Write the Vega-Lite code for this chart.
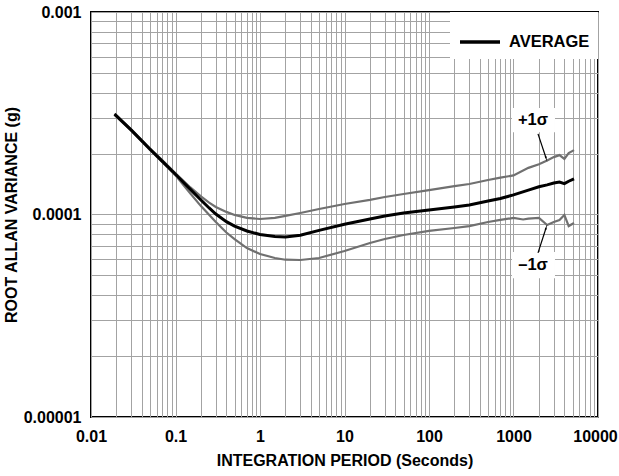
{
  "$schema": "https://vega.github.io/schema/vega-lite/v6.json",
  "autosize": "none",
  "width": 507,
  "height": 405,
  "padding": {"left": 91, "top": 12, "right": 21, "bottom": 59},
  "background": "white",
  "config": {
    "font": "Liberation Sans",
    "view": {"stroke": "black", "strokeWidth": 2},
    "axis": {
      "labelFont": "Liberation Sans",
      "labelFontSize": 16,
      "labelFontWeight": "bold",
      "labelColor": "black",
      "titleFont": "Liberation Sans",
      "titleFontSize": 16,
      "titleFontWeight": "bold",
      "titleColor": "black",
      "ticks": false,
      "domain": false,
      "gridColor": "#a3a3a3",
      "gridWidth": 1,
      "gridOpacity": 1
    }
  },
  "datasets": {
    "curves": [
      {"period": 0.019, "value": 0.000313, "series": "AVERAGE"},
      {"period": 0.03, "value": 0.000261, "series": "AVERAGE"},
      {"period": 0.05, "value": 0.00021, "series": "AVERAGE"},
      {"period": 0.07, "value": 0.000183, "series": "AVERAGE"},
      {"period": 0.1, "value": 0.000158, "series": "AVERAGE"},
      {"period": 0.15, "value": 0.000133, "series": "AVERAGE"},
      {"period": 0.2, "value": 0.000118, "series": "AVERAGE"},
      {"period": 0.25, "value": 0.0001077, "series": "AVERAGE"},
      {"period": 0.3, "value": 0.0001005, "series": "AVERAGE"},
      {"period": 0.4, "value": 0.0000922, "series": "AVERAGE"},
      {"period": 0.5, "value": 0.0000877, "series": "AVERAGE"},
      {"period": 0.7, "value": 0.0000829, "series": "AVERAGE"},
      {"period": 1, "value": 0.0000796, "series": "AVERAGE"},
      {"period": 1.5, "value": 0.0000778, "series": "AVERAGE"},
      {"period": 2, "value": 0.0000774, "series": "AVERAGE"},
      {"period": 3, "value": 0.000079, "series": "AVERAGE"},
      {"period": 5, "value": 0.0000835, "series": "AVERAGE"},
      {"period": 10, "value": 0.0000895, "series": "AVERAGE"},
      {"period": 20, "value": 0.000095, "series": "AVERAGE"},
      {"period": 30, "value": 0.0000984, "series": "AVERAGE"},
      {"period": 50, "value": 0.0001017, "series": "AVERAGE"},
      {"period": 100, "value": 0.0001052, "series": "AVERAGE"},
      {"period": 200, "value": 0.0001089, "series": "AVERAGE"},
      {"period": 300, "value": 0.0001115, "series": "AVERAGE"},
      {"period": 500, "value": 0.0001166, "series": "AVERAGE"},
      {"period": 700, "value": 0.00012, "series": "AVERAGE"},
      {"period": 1000, "value": 0.000125, "series": "AVERAGE"},
      {"period": 1500, "value": 0.000132, "series": "AVERAGE"},
      {"period": 2000, "value": 0.000137, "series": "AVERAGE"},
      {"period": 2500, "value": 0.00014, "series": "AVERAGE"},
      {"period": 3000, "value": 0.000143, "series": "AVERAGE"},
      {"period": 3500, "value": 0.0001445, "series": "AVERAGE"},
      {"period": 4000, "value": 0.000142, "series": "AVERAGE"},
      {"period": 4500, "value": 0.000146, "series": "AVERAGE"},
      {"period": 5200, "value": 0.00015, "series": "AVERAGE"},
      {"period": 0.019, "value": 0.000315, "series": "+1σ"},
      {"period": 0.03, "value": 0.000263, "series": "+1σ"},
      {"period": 0.05, "value": 0.000212, "series": "+1σ"},
      {"period": 0.07, "value": 0.000185, "series": "+1σ"},
      {"period": 0.1, "value": 0.00016, "series": "+1σ"},
      {"period": 0.15, "value": 0.000136, "series": "+1σ"},
      {"period": 0.2, "value": 0.000123, "series": "+1σ"},
      {"period": 0.25, "value": 0.0001145, "series": "+1σ"},
      {"period": 0.3, "value": 0.000109, "series": "+1σ"},
      {"period": 0.4, "value": 0.000103, "series": "+1σ"},
      {"period": 0.5, "value": 0.0000995, "series": "+1σ"},
      {"period": 0.7, "value": 0.0000962, "series": "+1σ"},
      {"period": 1, "value": 0.000095, "series": "+1σ"},
      {"period": 1.5, "value": 0.0000962, "series": "+1σ"},
      {"period": 2, "value": 0.0000984, "series": "+1σ"},
      {"period": 3, "value": 0.0001017, "series": "+1σ"},
      {"period": 5, "value": 0.0001064, "series": "+1σ"},
      {"period": 10, "value": 0.0001127, "series": "+1σ"},
      {"period": 20, "value": 0.000118, "series": "+1σ"},
      {"period": 30, "value": 0.000122, "series": "+1σ"},
      {"period": 50, "value": 0.0001262, "series": "+1σ"},
      {"period": 100, "value": 0.000132, "series": "+1σ"},
      {"period": 200, "value": 0.000138, "series": "+1σ"},
      {"period": 300, "value": 0.0001415, "series": "+1σ"},
      {"period": 500, "value": 0.000148, "series": "+1σ"},
      {"period": 700, "value": 0.000152, "series": "+1σ"},
      {"period": 1000, "value": 0.000156, "series": "+1σ"},
      {"period": 1500, "value": 0.00017, "series": "+1σ"},
      {"period": 2000, "value": 0.000177, "series": "+1σ"},
      {"period": 2500, "value": 0.000185, "series": "+1σ"},
      {"period": 3000, "value": 0.000192, "series": "+1σ"},
      {"period": 3500, "value": 0.0001965, "series": "+1σ"},
      {"period": 4000, "value": 0.000188, "series": "+1σ"},
      {"period": 4500, "value": 0.000201, "series": "+1σ"},
      {"period": 5200, "value": 0.000208, "series": "+1σ"},
      {"period": 0.019, "value": 0.00031, "series": "–1σ"},
      {"period": 0.03, "value": 0.000259, "series": "–1σ"},
      {"period": 0.05, "value": 0.000208, "series": "–1σ"},
      {"period": 0.07, "value": 0.000181, "series": "–1σ"},
      {"period": 0.1, "value": 0.000156, "series": "–1σ"},
      {"period": 0.15, "value": 0.000127, "series": "–1σ"},
      {"period": 0.2, "value": 0.00011, "series": "–1σ"},
      {"period": 0.3, "value": 0.0000918, "series": "–1σ"},
      {"period": 0.4, "value": 0.0000815, "series": "–1σ"},
      {"period": 0.5, "value": 0.0000755, "series": "–1σ"},
      {"period": 0.7, "value": 0.0000683, "series": "–1σ"},
      {"period": 1, "value": 0.0000638, "series": "–1σ"},
      {"period": 1.5, "value": 0.000061, "series": "–1σ"},
      {"period": 2, "value": 0.0000598, "series": "–1σ"},
      {"period": 3, "value": 0.0000596, "series": "–1σ"},
      {"period": 5, "value": 0.000061, "series": "–1σ"},
      {"period": 10, "value": 0.000066, "series": "–1σ"},
      {"period": 20, "value": 0.0000723, "series": "–1σ"},
      {"period": 30, "value": 0.0000757, "series": "–1σ"},
      {"period": 50, "value": 0.0000792, "series": "–1σ"},
      {"period": 100, "value": 0.000083, "series": "–1σ"},
      {"period": 200, "value": 0.0000858, "series": "–1σ"},
      {"period": 300, "value": 0.0000877, "series": "–1σ"},
      {"period": 500, "value": 0.0000918, "series": "–1σ"},
      {"period": 700, "value": 0.000094, "series": "–1σ"},
      {"period": 1000, "value": 0.0000962, "series": "–1σ"},
      {"period": 1300, "value": 0.0000945, "series": "–1σ"},
      {"period": 1500, "value": 0.0000955, "series": "–1σ"},
      {"period": 2000, "value": 0.0000962, "series": "–1σ"},
      {"period": 2500, "value": 0.0000887, "series": "–1σ"},
      {"period": 3000, "value": 0.0000918, "series": "–1σ"},
      {"period": 3500, "value": 0.000094, "series": "–1σ"},
      {"period": 4000, "value": 0.0000995, "series": "–1σ"},
      {"period": 4500, "value": 0.0000877, "series": "–1σ"},
      {"period": 5200, "value": 0.0000908, "series": "–1σ"}
    ],
    "notes": [
      {"label": "+1σ", "tx": 1702, "ty": 0.000293, "bx1": 959, "bx2": 3097, "by1": 0.000336, "by2": 0.000255, "ax1": 1950, "ay1": 0.00025, "ax2": 2427, "ay2": 0.00019},
      {"label": "–1σ", "tx": 1702, "ty": 0.0000564, "bx1": 959, "bx2": 3097, "by1": 0.0000653, "by2": 0.0000485, "ax1": 1950, "ay1": 0.0000646, "ax2": 2427, "ay2": 0.0000858}
    ]
  },
  "layer": [
    {
      "data": {"name": "curves"},
      "transform": [{"filter": "datum.series != 'AVERAGE'"}],
      "mark": {"type": "line", "color": "#707070", "strokeWidth": 2.2},
      "encoding": {
        "x": {
          "field": "period", "type": "quantitative",
          "scale": {"type": "log", "domain": [0.01, 10000], "nice": false},
          "axis": {
            "title": "INTEGRATION PERIOD (Seconds)",
            "titlePadding": 8,
            "labelPadding": 11,
            "format": "~f",
            "labelFlush": false,
            "labelOverlap": false,
            "labelBound": false,
            "labelOffset": {"condition": {"test": "datum.value >= 10000", "value": -3}, "value": 0},
            "values": [0.01,0.02,0.03,0.04,0.05,0.06,0.07,0.08,0.09,0.1,0.2,0.3,0.4,0.5,0.6,0.7,0.8,0.9,1,2,3,4,5,6,7,8,9,10,20,30,40,50,60,70,80,90,100,200,300,400,500,600,700,800,900,1000,2000,3000,4000,5000,6000,7000,8000,9000,10000],
            "labelExpr": "abs(log(datum.value)/LN10 - round(log(datum.value)/LN10)) < 0.001 ? datum.label : ''"
          }
        },
        "y": {
          "field": "value", "type": "quantitative",
          "scale": {"type": "log", "domain": [0.00001, 0.001], "nice": false},
          "axis": {
            "title": "ROOT ALLAN VARIANCE (g)",
            "titlePadding": 4,
            "labelPadding": 10,
            "format": "~f",
            "labelFlush": false,
            "labelOverlap": false,
            "values": [0.00001,0.00002,0.00003,0.00004,0.00005,0.00006,0.00007,0.00008,0.00009,0.0001,0.0002,0.0003,0.0004,0.0005,0.0006,0.0007,0.0008,0.0009,0.001],
            "labelExpr": "abs(log(datum.value)/LN10 - round(log(datum.value)/LN10)) < 0.001 ? datum.label : ''"
          }
        },
        "detail": {"field": "series"}
      }
    },
    {
      "data": {"name": "curves"},
      "transform": [{"filter": "datum.series == 'AVERAGE'"}],
      "mark": {"type": "line", "strokeWidth": 3},
      "encoding": {
        "x": {"field": "period", "type": "quantitative"},
        "y": {"field": "value", "type": "quantitative"},
        "color": {
          "field": "series", "type": "nominal",
          "scale": {"domain": ["AVERAGE"], "range": ["black"]},
          "legend": {
            "title": null,
            "orient": "top-right",
            "offset": 0,
            "padding": 8,
            "fillColor": "white",
            "symbolType": "stroke",
            "symbolStrokeWidth": 3.5,
            "symbolSize": 1600,
            "labelFont": "Liberation Sans",
            "labelFontSize": 16.5,
            "labelFontWeight": "bold",
            "labelColor": "black",
            "labelOffset": 7
          }
        }
      }
    },
    {
      "data": {"name": "notes"},
      "mark": {"type": "rect", "fill": "white"},
      "encoding": {
        "x": {"field": "bx1", "type": "quantitative"},
        "x2": {"field": "bx2"},
        "y": {"field": "by1", "type": "quantitative"},
        "y2": {"field": "by2"}
      }
    },
    {
      "data": {"name": "notes"},
      "mark": {"type": "text", "font": "Liberation Sans", "fontSize": 16.5, "fontWeight": "bold", "color": "black"},
      "encoding": {
        "x": {"field": "tx", "type": "quantitative"},
        "y": {"field": "ty", "type": "quantitative"},
        "text": {"field": "label"}
      }
    },
    {
      "data": {"name": "notes"},
      "mark": {"type": "rule", "color": "black", "strokeWidth": 1.2},
      "encoding": {
        "x": {"field": "ax1", "type": "quantitative"},
        "x2": {"field": "ax2"},
        "y": {"field": "ay1", "type": "quantitative"},
        "y2": {"field": "ay2"}
      }
    },
    {
      "data": {"name": "notes"},
      "transform": [{"filter": "datum.label == '+1σ'"}],
      "mark": {"type": "point", "shape": "wedge", "filled": true, "color": "black", "size": 45, "angle": 162, "opacity": 1},
      "encoding": {
        "x": {"field": "ax2", "type": "quantitative"},
        "y": {"field": "ay2", "type": "quantitative"}
      }
    },
    {
      "data": {"name": "notes"},
      "transform": [{"filter": "datum.label == '–1σ'"}],
      "mark": {"type": "point", "shape": "wedge", "filled": true, "color": "black", "size": 45, "angle": 18, "opacity": 1},
      "encoding": {
        "x": {"field": "ax2", "type": "quantitative"},
        "y": {"field": "ay2", "type": "quantitative"}
      }
    }
  ]
}
